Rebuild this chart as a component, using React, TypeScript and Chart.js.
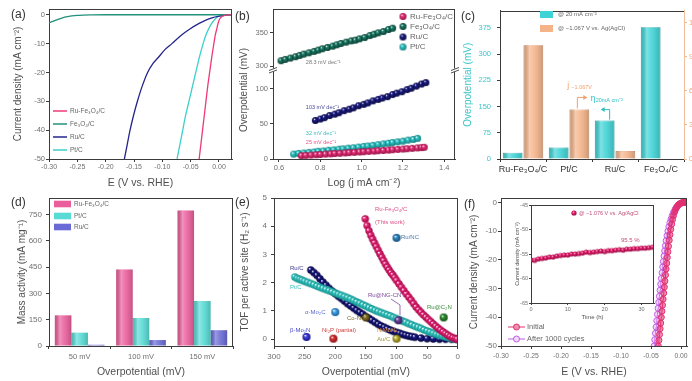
import React, { useEffect, useRef } from "react";
import { Chart, registerables } from "chart.js";

Chart.register(...registerables);

const FF = '"Liberation Sans", Arial, Helvetica, sans-serif';
Chart.defaults.font.family = FF;

const TICK = "#707070";
const TITLE = "#505050";
const AXIS = "#3c3c3c";

// ---------------- (a) polarisation curves ----------------
const aRuFeE = [-0.035, -0.032, -0.029, -0.026, -0.023, -0.02, -0.0165, -0.013, -0.009, -0.0065, -0.004, -0.002, 0.0, 0.003, 0.006, 0.01, 0.015, 0.023];
const aRuFeJ = [-50, -45, -40, -35, -30, -25, -20, -15, -10, -7, -5, -3.3, -2, -1, -0.5, -0.2, -0.05, 0];
const aFeE = [-0.3, -0.295, -0.29, -0.285, -0.28, -0.275, -0.27, -0.265, -0.26, -0.25, -0.24, -0.225, -0.2, -0.15, -0.1, -0.05, 0.0, 0.023];
const aFeJ = [-2.8, -2.4, -2.0, -1.65, -1.3, -1.0, -0.75, -0.55, -0.4, -0.2, -0.1, -0.04, 0, 0, 0, 0, 0, 0];
const aRuE = [-0.167, -0.162, -0.157, -0.151, -0.144, -0.136, -0.126, -0.117, -0.108, -0.095, -0.083, -0.066, -0.052, -0.035, -0.025, -0.011, 0.001, 0.01, 0.023];
const aRuJ = [-50, -45, -40, -35, -30, -25, -20, -17, -15, -12, -10, -7, -5, -3, -2, -1, -0.5, -0.2, 0];
const aPtE = [-0.074, -0.069, -0.064, -0.059, -0.053, -0.047, -0.041, -0.035, -0.028, -0.024, -0.019, -0.014, -0.009, -0.005, -0.001, 0.004, 0.01, 0.023];
const aPtJ = [-50, -45, -40, -35, -30, -25, -20, -15, -10, -7.5, -5.2, -3.3, -2, -1.1, -0.5, -0.2, -0.05, 0];
const aNames = ["Ru-Fe₃O₄/C", "Fe₃O₄/C", "Ru/C", "Pt/C"];

// ---------------- (b) Tafel plots ----------------
const bRuFeX = [0.708, 0.73, 0.755, 0.78, 0.8, 0.825, 0.85, 0.87, 0.895, 0.92, 0.94, 0.965, 0.99, 1.01, 1.035, 1.06, 1.08, 1.105, 1.13, 1.15, 1.175, 1.2, 1.22, 1.245, 1.27, 1.29, 1.303];
const bRuFeY = [4.8, 5.2, 5.7, 6.1, 6.5, 7, 7.4, 7.8, 8.2, 8.7, 9.1, 9.5, 10, 10.4, 10.9, 11.3, 11.8, 12.2, 12.7, 13.2, 13.7, 14.2, 14.7, 15.2, 15.8, 16.3, 16.7];
const bFeX = [0.61, 0.63, 0.655, 0.68, 0.7, 0.72, 0.745, 0.77, 0.79, 0.81, 0.835, 0.86, 0.88, 0.9, 0.925, 0.95, 0.97, 0.99, 1.015, 1.04, 1.06, 1.08, 1.105, 1.13, 1.15];
const bFeY = [308, 310, 312, 314, 316, 318, 320, 322, 324, 326, 328, 330, 332, 334, 336, 338, 339, 341, 343, 346, 348, 350, 352, 355, 357];
const bRuX = [0.776, 0.8, 0.82, 0.845, 0.87, 0.89, 0.915, 0.94, 0.96, 0.985, 1.01, 1.03, 1.055, 1.08, 1.1, 1.125, 1.15, 1.17, 1.195, 1.22, 1.24, 1.265, 1.29, 1.311];
const bRuY = [55, 57, 59, 62, 64, 66, 69, 71, 73, 76, 78, 80, 83, 85, 87, 89, 92, 94, 96, 99, 101, 104, 107, 109];
const bPtX = [0.671, 0.695, 0.72, 0.745, 0.77, 0.79, 0.815, 0.84, 0.865, 0.89, 0.91, 0.935, 0.96, 0.985, 1.01, 1.03, 1.055, 1.08, 1.105, 1.13, 1.15, 1.175, 1.2, 1.225, 1.25, 1.271];
const bPtY = [7, 8, 8.5, 9.5, 10, 11, 11.5, 12.5, 13, 14, 14.5, 15.5, 16, 17, 18, 18.5, 19.5, 20.5, 21.5, 22.5, 23.5, 24.5, 25.5, 27, 28, 29.5];
const bSlopes = ["28.3 mV dec⁻¹", "103 mV dec⁻¹", "32 mV dec⁻¹", "25 mV dec⁻¹"];

// ---------------- (c) overpotential / current bars ----------------
const cCats = ["Ru-Fe₃O₄/C", "Pt/C", "Ru/C", "Fe₃O₄/C"];
const cEta20 = [18, 33, 110, 377];
const cJ = [10.0, 4.36, 0.7, null];
const cSeries = ["@ 20 mA cm⁻²", "@ −1.067 V vs. Ag(AgCl)"];

// ---------------- (d) mass activity ----------------
const dCats = ["50 mV", "100 mV", "150 mV"];
const dRuFe = [175, 437, 773];
const dPt = [76, 160, 257];
const dRu = [7, 34, 90];

// ---------------- (e) TOF ----------------
const eRuFeX = [151, 148, 145, 142, 139, 136, 133, 130, 127, 124, 121, 118, 115, 112, 109, 106, 103, 100, 96, 92, 88, 84, 80, 76, 72, 68, 64, 60, 56, 52, 48, 44, 40, 36, 32, 28, 24, 20, 16, 12, 8, 4, 1];
const eRuFeY = [4.26, 4.02, 3.84, 3.68, 3.54, 3.41, 3.28, 3.15, 3.02, 2.9, 2.78, 2.66, 2.55, 2.45, 2.35, 2.27, 2.18, 2.08, 1.96, 1.84, 1.72, 1.6, 1.49, 1.38, 1.26, 1.14, 1.04, 0.95, 0.86, 0.78, 0.7, 0.62, 0.54, 0.46, 0.39, 0.32, 0.26, 0.2, 0.14, 0.09, 0.05, 0.02, 0.0];
const eRuX = [240, 235, 230, 225, 220, 215, 210, 205, 200, 195, 190, 185, 180, 175, 170, 165, 160, 155, 150, 145, 140, 135, 130, 125, 120, 115, 110, 105, 100, 95, 90, 85, 80, 75, 70, 60, 50, 40, 30, 20, 10, 2];
const eRuY = [2.45, 2.36, 2.26, 2.14, 2.02, 1.91, 1.8, 1.7, 1.61, 1.52, 1.44, 1.35, 1.26, 1.18, 1.1, 1.02, 0.95, 0.88, 0.8, 0.74, 0.67, 0.6, 0.53, 0.47, 0.42, 0.37, 0.32, 0.28, 0.24, 0.21, 0.17, 0.14, 0.11, 0.09, 0.07, 0.04, 0.02, 0.01, 0, 0, 0, 0];
const ePtX = [266, 262, 258, 254, 250, 245, 240, 235, 230, 225, 220, 215, 210, 205, 200, 195, 190, 185, 180, 175, 170, 165, 160, 155, 150, 145, 140, 135, 130, 125, 120, 115, 110, 105, 100, 95, 90, 85, 80, 75, 70, 65, 60, 55, 50, 45, 40, 35, 30, 25, 20, 15, 10, 5, 1];
const ePtY = [2.2, 2.15, 2.12, 2.09, 2.05, 2.01, 1.97, 1.93, 1.88, 1.84, 1.8, 1.76, 1.72, 1.68, 1.63, 1.59, 1.55, 1.51, 1.47, 1.42, 1.37, 1.32, 1.27, 1.22, 1.17, 1.12, 1.07, 1.02, 0.98, 0.94, 0.9, 0.86, 0.82, 0.77, 0.73, 0.69, 0.64, 0.6, 0.55, 0.51, 0.46, 0.42, 0.38, 0.33, 0.29, 0.25, 0.21, 0.17, 0.14, 0.11, 0.08, 0.05, 0.03, 0.01, 0];
const eRefNames = ["Ru/NC", "Ru@C₂N", "α-Mo₂C", "Co-NG", "β-Mo₂N", "Ni₂P (partial)", "Au/C", "Ru@NG-CN"];
const eRefX = [100, 23, 200, 150, 247, 203, 100, 97];
const eRefY = [3.59, 0.77, 0.96, 0.77, 0.08, 0.02, 0.02, 0.67];

// ---------------- (f) stability ----------------
const fInitE = [-0.0378, -0.0368, -0.0358, -0.0348, -0.0338, -0.0328, -0.0318, -0.0308, -0.0298, -0.0288, -0.0278, -0.0268, -0.0258, -0.0248, -0.0238, -0.0228, -0.0218, -0.0208, -0.0196, -0.0184, -0.017, -0.0156, -0.014, -0.0124, -0.0106, -0.0088, -0.0068, -0.0048, -0.0026, -0.0004, 0.0018, 0.004, 0.006, 0.008, 0.0095];
const fInitJ = [-50, -48, -46, -44, -42, -40, -37.9, -35.8, -33.7, -31.6, -29.5, -27.4, -25.3, -23.2, -21.2, -19.2, -17.2, -15.3, -13.2, -11.3, -9.4, -7.6, -6.0, -4.6, -3.4, -2.4, -1.6, -1.0, -0.6, -0.3, -0.15, -0.05, 0, 0.05, 0];
const fCycE = [-0.0448, -0.0437, -0.0426, -0.0415, -0.0404, -0.0393, -0.0382, -0.0371, -0.036, -0.0349, -0.0338, -0.0327, -0.0316, -0.0305, -0.0294, -0.0283, -0.0272, -0.026, -0.0247, -0.0233, -0.0218, -0.0202, -0.0185, -0.0166, -0.0146, -0.0124, -0.01, -0.0076, -0.005, -0.0024, 0.0002, 0.0026, 0.005, 0.0072, 0.009];
const fCycJ = [-50, -47.8, -45.6, -43.4, -41.2, -39.0, -36.9, -34.8, -32.7, -30.6, -28.5, -26.5, -24.5, -22.5, -20.6, -18.7, -16.9, -15.1, -13.3, -11.6, -10.0, -8.5, -7.1, -5.8, -4.6, -3.5, -2.5, -1.7, -1.1, -0.6, -0.3, -0.1, 0, 0.05, 0];
const insetT = [0, 1, 2, 3, 4, 5, 6, 7, 8, 9, 10, 11, 12, 13, 14, 15, 16, 17, 18, 19, 20, 21, 22, 23, 24, 25, 26, 27, 28, 29, 30, 31, 32, 33];
const insetJ = [-56.2, -56.3, -56.0, -55.9, -55.8, -55.6, -55.6, -55.4, -55.3, -55.2, -55.2, -55.0, -55.0, -54.9, -54.8, -54.6, -54.7, -54.6, -54.5, -54.4, -54.5, -54.3, -54.3, -54.2, -54.1, -54.2, -54.0, -54.0, -53.9, -53.9, -53.8, -53.8, -53.7, -53.6];

// ---------------- helpers ----------------
type Rect = { x: number; y: number; w: number; h: number };
type Area = { L: number; T: number; R: number; B: number };

const pts = (xs: number[], ys: number[]) => xs.map((x, i) => ({ x, y: ys[i] }));

function geo(r: Rect, a: Area, rightW = 0) {
  return {
    padding: { left: 0, top: a.T - r.y, right: r.x + r.w - a.R - rightW, bottom: 0 },
    yW: a.L - r.x,
    xH: r.y + r.h - a.B,
  };
}
function tk(size: number, padding: number, color = TICK) {
  return { color, font: { family: FF, size }, padding, autoSkip: false, maxRotation: 0, minRotation: 0, includeBounds: false };
}
function gridOpt(color = AXIS, len = 3) {
  return { display: true, drawOnChartArea: false, drawTicks: true, tickLength: len, color, lineWidth: 1 };
}
function borderOpt(color = AXIS) {
  return { display: true, color, width: 1 };
}
function ttl(text: string, size: number, pad: number, color = TITLE) {
  return { display: true, text, color, font: { family: FF, size }, padding: { top: pad, bottom: pad } };
}
function base(g: any) {
  return {
    responsive: false,
    animation: false,
    devicePixelRatio: 1,
    events: [],
    layout: { padding: g.padding },
    plugins: { legend: { display: false }, tooltip: { enabled: false } },
  };
}
function T(ctx: CanvasRenderingContext2D, s: string, x: number, y: number, color: string, size: number, align: CanvasTextAlign = "left", rot = 0) {
  ctx.save();
  ctx.fillStyle = color;
  ctx.font = `${size}px ${FF}`;
  ctx.textAlign = align;
  ctx.textBaseline = "middle";
  ctx.translate(x, y);
  if (rot) ctx.rotate(rot);
  ctx.fillText(s, 0, 0);
  ctx.restore();
}
function L(ctx: CanvasRenderingContext2D, p: number[], color: string, w = 1) {
  ctx.save();
  ctx.strokeStyle = color;
  ctx.lineWidth = w;
  ctx.beginPath();
  ctx.moveTo(p[0], p[1]);
  for (let i = 2; i < p.length; i += 2) ctx.lineTo(p[i], p[i + 1]);
  ctx.stroke();
  ctx.restore();
}
function head(ctx: CanvasRenderingContext2D, x: number, y: number, dir: number, color: string) {
  ctx.save();
  ctx.fillStyle = color;
  ctx.beginPath();
  ctx.moveTo(x, y);
  ctx.lineTo(x - dir * 4, y - 2.5);
  ctx.lineTo(x - dir * 4, y + 2.5);
  ctx.closePath();
  ctx.fill();
  ctx.restore();
}
function ball(c: string, dark: string, r: number) {
  const s = Math.ceil(r * 2 + 2);
  const cv = document.createElement("canvas");
  cv.width = s;
  cv.height = s;
  const g = cv.getContext("2d") as CanvasRenderingContext2D;
  const m = s / 2;
  const gr = g.createRadialGradient(m - r * 0.35, m - r * 0.4, r * 0.05, m, m, r);
  gr.addColorStop(0, "#ffffff");
  gr.addColorStop(0.3, c);
  gr.addColorStop(1, dark);
  g.fillStyle = gr;
  g.beginPath();
  g.arc(m, m, r, 0, Math.PI * 2);
  g.fill();
  return cv;
}
function frameTR(right = true, color = AXIS) {
  return {
    id: "frameTR",
    afterDatasetsDraw(ch: any) {
      const { ctx, chartArea: a } = ch;
      ctx.save();
      ctx.strokeStyle = color;
      ctx.lineWidth = 1;
      ctx.beginPath();
      const t = Math.round(a.top) + 0.5;
      const rr = Math.round(a.right) - 0.5;
      ctx.moveTo(a.left, t);
      ctx.lineTo(a.right, t);
      if (right) {
        ctx.moveTo(rr, a.top);
        ctx.lineTo(rr, a.bottom);
      }
      ctx.stroke();
      ctx.restore();
    },
  };
}
const shine = {
  id: "shine",
  afterDatasetsDraw(ch: any) {
    const ctx = ch.ctx as CanvasRenderingContext2D;
    ch.data.datasets.forEach((_d: any, i: number) => {
      ch.getDatasetMeta(i).data.forEach((el: any) => {
        if (!isFinite(el.y) || !isFinite(el.base) || !isFinite(el.x)) return;
        const w = el.width;
        const x0 = el.x - w / 2;
        const top = Math.min(el.y, el.base);
        const h = Math.abs(el.base - el.y);
        if (h < 0.5) return;
        const g = ctx.createLinearGradient(x0, 0, x0 + w, 0);
        g.addColorStop(0, "rgba(0,0,0,0.14)");
        g.addColorStop(0.3, "rgba(255,255,255,0.32)");
        g.addColorStop(0.55, "rgba(255,255,255,0.12)");
        g.addColorStop(1, "rgba(0,0,0,0.16)");
        ctx.fillStyle = g;
        ctx.fillRect(x0, top, w, h);
      });
    });
  },
};
type Draw = (ctx: CanvasRenderingContext2D, ch: any, px: (id: string, v: number) => number, py: (id: string, v: number) => number) => void;
function overlay(r: Rect, fn: Draw) {
  return {
    id: "overlay",
    afterDraw(ch: any) {
      const ctx = ch.ctx as CanvasRenderingContext2D;
      ctx.save();
      ctx.translate(-r.x, -r.y);
      fn(
        ctx,
        ch,
        (id, v) => ch.scales[id].getPixelForValue(v) + r.x,
        (id, v) => ch.scales[id].getPixelForValue(v) + r.y
      );
      ctx.restore();
    },
  };
}

// ---------------- panel rectangles ----------------
const RA: Rect = { x: 0, y: 0, w: 236, h: 192 };
const RB: Rect = { x: 232, y: 0, w: 228, h: 192 };
const RC: Rect = { x: 458, y: 0, w: 251, h: 192 };
const RD: Rect = { x: 0, y: 186, w: 236, h: 195 };
const RE: Rect = { x: 232, y: 186, w: 231, h: 195 };
const RF: Rect = { x: 458, y: 186, w: 240, h: 195 };
const RI: Rect = { x: 508, y: 200, w: 152, h: 124 };

// ---------------- (a) ----------------
const A_COL = ["#ee3a78", "#23917a", "#24248c", "#3ccfcb"];
function buildA(r: Rect) {
  const g = geo(r, { L: 49, T: 9, R: 232, B: 159 });
  const series = [
    [aRuFeE, aRuFeJ],
    [aFeE, aFeJ],
    [aRuE, aRuJ],
    [aPtE, aPtJ],
  ];
  return {
    type: "scatter",
    data: {
      datasets: series.map((s, i) => ({
        label: aNames[i],
        data: pts(s[0], s[1]),
        showLine: true,
        borderColor: A_COL[i],
        backgroundColor: A_COL[i],
        borderWidth: 1.3,
        pointRadius: 0,
        cubicInterpolationMode: "monotone",
      })),
    },
    options: {
      ...base(g),
      scales: {
        x: {
          type: "linear", min: -0.3001, max: 0.023,
          ticks: { ...tk(7, 1), stepSize: 0.05, callback: (v: any) => Number(v).toFixed(2) },
          grid: gridOpt(), border: borderOpt(), title: ttl("E (V vs. RHE)", 10.5, 3),
          afterFit: (s: any) => { s.height = g.xH; },
        },
        y: {
          type: "linear", min: -50, max: 2,
          ticks: { ...tk(7.5, 1), stepSize: 10 },
          grid: gridOpt(), border: borderOpt(), title: ttl("Current density (mA cm⁻²)", 10, 12.3),
          afterFit: (s: any) => { s.width = g.yW; },
        },
      },
    },
    plugins: [
      frameTR(),
      overlay(r, (ctx) => {
        T(ctx, "(a)", 11, 15, "#333", 12);
        const ys = [111, 124, 137, 150];
        aNames.forEach((n, i) => {
          L(ctx, [53, ys[i], 67, ys[i]], A_COL[i], 1.5);
          T(ctx, n, 70, ys[i], "#666", 6.5);
        });
      }),
    ],
  };
}

// ---------------- (b) ----------------
const B_COL = ["#e8387e", "#1d7f6a", "#1e1e86", "#35c8c8"];
const B_DARK = ["#9a0f45", "#0a3f32", "#0a0a44", "#0f7f80"];
function buildB(r: Rect) {
  const g = geo(r, { L: 273, T: 9, R: 458, B: 159 });
  const balls = B_COL.map((c, i) => ball(c, B_DARK[i], 3.5));
  const mk = (label: string, xs: number[], ys: number[], i: number, axis: string) => ({
    label, data: pts(xs, ys), yAxisID: axis, pointStyle: balls[i], pointRadius: 3.5, showLine: false,
    backgroundColor: B_COL[i], borderColor: B_COL[i],
  });
  return {
    type: "scatter",
    data: {
      datasets: [
        mk(aNames[0], bRuFeX, bRuFeY, 0, "y0"),
        mk(aNames[1], bFeX, bFeY, 1, "y1"),
        mk(aNames[2], bRuX, bRuY, 2, "y0"),
        mk(aNames[3], bPtX, bPtY, 3, "y0"),
      ],
    },
    options: {
      ...base(g),
      scales: {
        x: {
          type: "linear", min: 0.571, max: 1.452,
          ticks: { ...tk(7.5, 1), stepSize: 0.2, callback: (v: any) => Number(v).toFixed(1) },
          grid: gridOpt(), border: borderOpt(), title: ttl("Log (j mA cm⁻²)", 10.5, 3),
          afterFit: (s: any) => { s.height = g.xH; },
        },
        y0: {
          type: "linear", position: "left", stack: "yb", stackWeight: 89, min: 0, max: 127,
          ticks: { ...tk(7.5, 2), stepSize: 50 }, grid: gridOpt(), border: borderOpt(),
          afterFit: (s: any) => { s.width = g.yW; },
        },
        y1: {
          type: "linear", position: "left", stack: "yb", stackWeight: 61, min: 294, max: 386,
          ticks: { ...tk(7.5, 2), stepSize: 50 }, grid: gridOpt(), border: borderOpt(),
          afterFit: (s: any) => { s.width = g.yW; },
        },
      },
    },
    plugins: [
      frameTR(),
      overlay(r, (ctx, ch, px, py) => {
        T(ctx, "(b)", 235, 17, "#333", 12);
        T(ctx, "Overpotential (mV)", 244, 90, TITLE, 10, "center", -Math.PI / 2);
        const yb = ch.scales.y1.bottom + r.y;
        [ch.chartArea.left + r.x, ch.chartArea.right + r.x].forEach((x: number) => {
          ctx.fillStyle = "#fff";
          ctx.fillRect(x - 4, yb - 1.5, 8, 3);
          L(ctx, [x - 4, yb + 0.5, x + 4, yb - 2.5], AXIS, 0.9);
          L(ctx, [x - 4, yb + 3, x + 4, yb], AXIS, 0.9);
        });
        const sx = px("x", 0.73);
        T(ctx, bSlopes[0], sx, py("y1", 306), "#777", 5.5);
        T(ctx, bSlopes[1], sx, py("y0", 74), "#4a4a9a", 5.5);
        T(ctx, bSlopes[2], sx, py("y0", 37), "#40bcbc", 5.5);
        T(ctx, bSlopes[3], sx, py("y0", 24), "#e0558a", 5.5);
        const ly = [16.5, 26.5, 37, 47];
        aNames.forEach((n, i) => {
          const b = balls[i];
          ctx.drawImage(b, 403 - b.width / 2, ly[i] - b.height / 2);
          T(ctx, n, 410, ly[i], "#666", 8);
        });
      }),
    ],
  };
}

// ---------------- (c) ----------------
const C_CYAN = "#3fd3d6";
const C_ORANGE = "#f4b388";
function buildC(r: Rect) {
  const g = geo(r, { L: 500, T: 9, R: 684, B: 159 }, 25);
  return {
    type: "bar",
    data: {
      labels: cCats,
      datasets: [
        { label: cSeries[0], data: cEta20, yAxisID: "y", backgroundColor: C_CYAN, borderColor: "#25b2b5", borderWidth: 0.8, barPercentage: 0.95, categoryPercentage: 0.9 },
        { label: cSeries[1], data: cJ, yAxisID: "y2", backgroundColor: C_ORANGE, borderColor: "#e2956a", borderWidth: 0.8, barPercentage: 0.95, categoryPercentage: 0.9 },
      ],
    },
    options: {
      ...base(g),
      scales: {
        x: {
          type: "category",
          ticks: { ...tk(9, 2, "#333") }, grid: { ...gridOpt(), offset: true }, border: borderOpt(),
          afterFit: (s: any) => { s.height = g.xH; },
        },
        y: {
          type: "linear", position: "left", min: 0, max: 425,
          ticks: { ...tk(7.5, 6, "#3cc6ca"), stepSize: 75 }, grid: gridOpt(), border: borderOpt(),
          title: ttl("Overpotential (mV)", 10, 4.3, "#3cc6ca"),
          afterFit: (s: any) => { s.width = g.yW; },
        },
        y2: {
          type: "linear", position: "right", min: 0, max: 13.05,
          ticks: { ...tk(7.5, 2, "#f0a576"), stepSize: 3 }, grid: gridOpt("#f2b890"), border: borderOpt("#f2c09c"),
          afterFit: (s: any) => { s.width = 25; },
        },
      },
    },
    plugins: [
      shine,
      frameTR(false),
      overlay(r, (ctx, ch) => {
        T(ctx, "(c)", 461, 17, "#333", 12);
        ctx.fillStyle = C_CYAN;
        ctx.fillRect(540, 11, 13, 7);
        ctx.fillStyle = C_ORANGE;
        ctx.fillRect(540, 25, 13, 7);
        T(ctx, cSeries[0], 558, 14.5, "#666", 6);
        T(ctx, cSeries[1], 558, 28.5, "#666", 6);
        const eo = ch.getDatasetMeta(1).data[1];
        const ox = eo.x + r.x - 2;
        const oy = eo.y + r.y - 1;
        L(ctx, [ox, oy, ox, oy - 11, ox + 7, oy - 11], "#f0a070", 1);
        head(ctx, ox + 10, oy - 11, 1, "#f0a070");
        T(ctx, "j", ox - 10, oy - 23, "#f0a070", 8.5);
        T(ctx, "−1.067V", ox - 6, oy - 21, "#f0a070", 5.5);
        const ec = ch.getDatasetMeta(0).data[2];
        const cx = ec.x + r.x + 5;
        const cy = ec.y + r.y - 1;
        L(ctx, [cx, cy, cx, cy - 10, cx - 6, cy - 10], "#30c0c4", 1);
        head(ctx, cx - 9, cy - 10, -1, "#30c0c4");
        T(ctx, "η", cx - 19, cy - 21, "#30c0c4", 8.5);
        T(ctx, "20mA cm⁻²", cx - 14, cy - 19, "#30c0c4", 5.5);
      }),
    ],
  };
}

// ---------------- (d) ----------------
const D_COL = ["#ea5e9c", "#58dbd5", "#6a6ad6"];
function buildD(r: Rect) {
  const g = geo(r, { L: 49, T: 198, R: 233, B: 346 });
  const names = [aNames[0], aNames[3], aNames[2]];
  const vals = [dRuFe, dPt, dRu];
  return {
    type: "bar",
    data: {
      labels: dCats,
      datasets: vals.map((v, i) => ({
        label: names[i], data: v, backgroundColor: D_COL[i], borderWidth: 0, barPercentage: 1, categoryPercentage: 0.81,
      })),
    },
    options: {
      ...base(g),
      scales: {
        x: {
          type: "category",
          ticks: { ...tk(7.5, 3) }, grid: { ...gridOpt(), offset: true }, border: borderOpt(),
          title: ttl("Overpotential (mV)", 10.5, 3),
          afterFit: (s: any) => { s.height = g.xH; },
        },
        y: {
          type: "linear", min: 0, max: 845,
          ticks: { ...tk(8, 4), stepSize: 150 }, grid: gridOpt(), border: borderOpt(),
          title: ttl("Mass activity (mA mg⁻¹)", 10, 16.3),
          afterFit: (s: any) => { s.width = g.yW; },
        },
      },
    },
    plugins: [
      shine,
      frameTR(),
      overlay(r, (ctx) => {
        T(ctx, "(d)", 11, 203, "#333", 12);
        const ys = [204, 216, 227];
        names.forEach((n, i) => {
          ctx.fillStyle = D_COL[i];
          ctx.fillRect(54, ys[i] - 3.3, 17, 6.6);
          T(ctx, n, 74, ys[i], "#666", 6.5);
        });
      }),
    ],
  };
}

// ---------------- (e) ----------------
const E_REF_COL = ["#3a8ec8", "#3a9a3a", "#4aa8e8", "#8c7a2a", "#4848e0", "#e03a3a", "#c8c040", "#7a4aa8"];
const E_REF_DARK = ["#104a78", "#104a10", "#16609a", "#3e3008", "#12128a", "#860c0c", "#6a6008", "#341458"];
function buildE(r: Rect) {
  const g = geo(r, { L: 274, T: 198, R: 459, B: 346 });
  const refs = eRefNames.map((n, i) => ({
    label: n, data: [{ x: eRefX[i], y: eRefY[i] }], pointStyle: ball(E_REF_COL[i], E_REF_DARK[i], 4), pointRadius: 4,
    backgroundColor: E_REF_COL[i], borderColor: E_REF_COL[i],
  }));
  const band = (label: string, xs: number[], ys: number[], c: string, d: string) => ({
    label, data: pts(xs, ys), pointStyle: ball(c, d, 3.7), pointRadius: 3.7, backgroundColor: c, borderColor: c,
  });
  return {
    type: "scatter",
    data: {
      datasets: [
        ...refs,
        band(aNames[0], eRuFeX, eRuFeY, "#f0287c", "#a00a48"),
        band(aNames[3], ePtX, ePtY, "#3ccdc8", "#14908c"),
        band(aNames[2], eRuX, eRuY, "#1a1a8a", "#06063e"),
      ],
    },
    options: {
      ...base(g),
      scales: {
        x: {
          type: "linear", reverse: true, min: 0, max: 300,
          ticks: { ...tk(8, 3), stepSize: 50 }, grid: gridOpt(), border: borderOpt(),
          title: ttl("Overpotential (mV)", 10.5, 3),
          afterFit: (s: any) => { s.height = g.xH; },
        },
        y: {
          type: "linear", min: -0.24, max: 5,
          ticks: { ...tk(8, 4), stepSize: 1 }, grid: gridOpt(), border: borderOpt(),
          title: ttl("TOF per active site (H₂ s⁻¹)", 10, 7.3),
          afterFit: (s: any) => { s.width = g.yW; },
        },
      },
    },
    plugins: [
      frameTR(),
      overlay(r, (ctx) => {
        T(ctx, "(e)", 235, 203, "#333", 12);
        const s = 6;
        T(ctx, aNames[0], 375, 209, "#e0508a", s);
        T(ctx, "(This work)", 375, 222, "#e0508a", s);
        T(ctx, eRefNames[0], 401, 237.5, "#4a7aa8", s);
        T(ctx, aNames[2], 290, 268, "#3a3a8a", s);
        T(ctx, aNames[3], 290, 287.5, "#3cc0bc", s);
        T(ctx, eRefNames[2], 305, 312, "#5a6ad0", s);
        T(ctx, eRefNames[3], 347, 318, "#7a6a2a", s);
        T(ctx, eRefNames[1], 427, 307, "#3a8a3a", s);
        T(ctx, eRefNames[7], 368, 295, "#7a4a9a", s);
        L(ctx, [391, 299, 400, 305, 400, 315], "#7a4a9a", 0.8);
        T(ctx, eRefNames[4], 290, 330, "#4a4ad0", s);
        T(ctx, eRefNames[5], 322, 330, "#d04040", s);
        T(ctx, "NiMoNₓ", 377, 330, "#e0903a", s);
        T(ctx, eRefNames[6], 377, 339, "#a09a30", s);
      }),
    ],
  };
}

// ---------------- (f) ----------------
const F_PINK = "#e2306f";
const F_VIOLET = "#c25ae6";
function buildF(r: Rect) {
  const g = geo(r, { L: 501, T: 198, R: 687, B: 346 });
  return {
    type: "scatter",
    data: {
      datasets: [
        { label: "Initial", data: pts(fInitE, fInitJ), showLine: true, borderColor: F_PINK, borderWidth: 1, pointRadius: 3, pointBorderWidth: 1, pointBorderColor: F_PINK, pointBackgroundColor: "rgba(226,48,111,0.55)" },
        { label: "After 1000 cycles", data: pts(fCycE, fCycJ), showLine: true, borderColor: F_VIOLET, borderWidth: 1, pointRadius: 3, pointBorderWidth: 1, pointBorderColor: F_VIOLET, pointBackgroundColor: "rgba(214,150,240,0.35)" },
      ],
    },
    options: {
      ...base(g),
      scales: {
        x: {
          type: "linear", min: -0.3001, max: 0.01,
          ticks: { ...tk(6.8, 3), stepSize: 0.05, callback: (v: any) => Number(v).toFixed(2) },
          grid: gridOpt(), border: borderOpt(), title: ttl("E (V vs. RHE)", 10.5, 3),
          afterFit: (s: any) => { s.height = g.xH; },
        },
        y: {
          type: "linear", min: -50, max: 1.5,
          ticks: { ...tk(8, 1), stepSize: 10 }, grid: gridOpt(), border: borderOpt(),
          title: ttl("Current density (mA cm⁻²)", 10, 10.3),
          afterFit: (s: any) => { s.width = g.yW; },
        },
      },
    },
    plugins: [
      frameTR(),
      overlay(r, (ctx) => {
        T(ctx, "(f)", 464, 205, "#333", 12);
        const rows: [number, string, string, string][] = [
          [327, "Initial", F_PINK, "rgba(226,48,111,0.55)"],
          [339, "After 1000 cycles", F_VIOLET, "rgba(214,150,240,0.35)"],
        ];
        rows.forEach(([y, n, c, f]) => {
          L(ctx, [508, y, 525, y], c, 1);
          ctx.save();
          ctx.beginPath();
          ctx.arc(516.5, y, 3, 0, Math.PI * 2);
          ctx.fillStyle = "#fff";
          ctx.fill();
          ctx.fillStyle = f;
          ctx.fill();
          ctx.strokeStyle = c;
          ctx.stroke();
          ctx.restore();
          T(ctx, n, 527, y, "#666", 7.5);
        });
      }),
    ],
  };
}

// ---------------- (f) inset ----------------
function buildInset(r: Rect) {
  const g = geo(r, { L: 531, T: 205, R: 654, B: 303 });
  const pb = ball("#ee2c78", "#9a0a44", 2.6);
  return {
    type: "scatter",
    data: {
      datasets: [
        { label: "@ −1.076 V vs. Ag/AgCl", data: pts(insetT, insetJ), pointStyle: pb, pointRadius: 2.6, backgroundColor: "#ee2c78", borderColor: "#ee2c78" },
      ],
    },
    options: {
      ...base(g),
      scales: {
        x: {
          type: "linear", min: 0, max: 33.4,
          ticks: { ...tk(5.5, 1), stepSize: 10 }, grid: gridOpt(AXIS, 2), border: borderOpt(),
          title: ttl("Time (h)", 6, 2.7),
          afterFit: (s: any) => { s.height = g.xH; },
        },
        y: {
          type: "linear", min: -65, max: -45,
          ticks: { ...tk(5.5, 1), stepSize: 5 }, grid: gridOpt(AXIS, 2), border: borderOpt(),
          title: ttl("Current density (mA cm⁻²)", 5.5, 5.7),
          afterFit: (s: any) => { s.width = g.yW; },
        },
      },
    },
    plugins: [
      {
        id: "bgWhite",
        beforeDraw(ch: any) {
          const a = ch.chartArea;
          ch.ctx.save();
          ch.ctx.fillStyle = "#fff";
          ch.ctx.fillRect(a.left, a.top, a.right - a.left, a.bottom - a.top);
          ch.ctx.restore();
        },
      },
      frameTR(),
      overlay(r, (ctx) => {
        ctx.drawImage(pb, 574 - pb.width / 2, 213 - pb.height / 2);
        T(ctx, "@ −1.076 V vs. Ag/AgCl", 579, 213, "#c0507a", 5.5);
        T(ctx, "95.5 %", 621, 240, "#c0507a", 6);
      }),
    ],
  };
}

function ChartCanvas({ r, build }: { r: Rect; build: (r: Rect) => any }) {
  const ref = useRef<HTMLCanvasElement | null>(null);
  useEffect(() => {
    const chart = new Chart(ref.current as HTMLCanvasElement, build(r));
    return () => chart.destroy();
  }, []);
  return (
    <canvas
      ref={ref}
      width={r.w}
      height={r.h}
      style={{ position: "absolute", left: r.x, top: r.y, width: r.w, height: r.h }}
    />
  );
}

export default function App() {
  return (
    <div style={{ position: "absolute", left: 0, top: 0, width: 692, height: 381, overflow: "hidden", background: "#fff" }}>
      <ChartCanvas r={RA} build={buildA} />
      <ChartCanvas r={RB} build={buildB} />
      <ChartCanvas r={RC} build={buildC} />
      <ChartCanvas r={RD} build={buildD} />
      <ChartCanvas r={RE} build={buildE} />
      <ChartCanvas r={RF} build={buildF} />
      <ChartCanvas r={RI} build={buildInset} />
    </div>
  );
}
